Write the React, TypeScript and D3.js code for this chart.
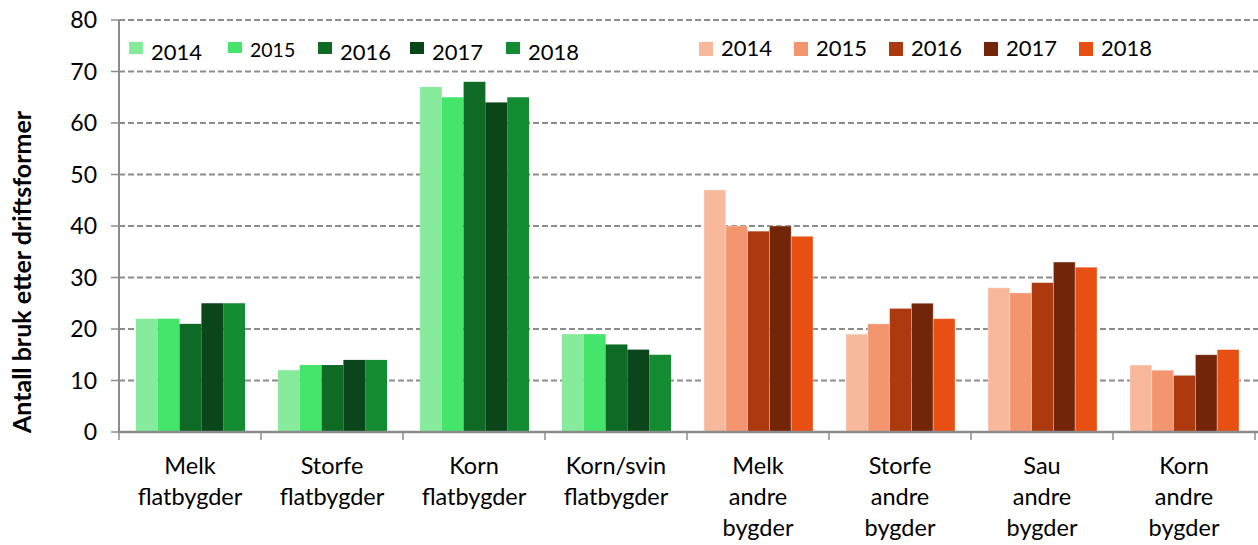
import React from "react";
import * as d3 from "d3";

const categories = [
  ["Melk", "flatbygder"],
  ["Storfe", "flatbygder"],
  ["Korn", "flatbygder"],
  ["Korn/svin", "flatbygder"],
  ["Melk", "andre", "bygder"],
  ["Storfe", "andre", "bygder"],
  ["Sau", "andre", "bygder"],
  ["Korn", "andre", "bygder"],
];
const years = ["2014", "2015", "2016", "2017", "2018"];
const values2014 = [22, 12, 67, 19, 47, 19, 28, 13];
const values2015 = [22, 13, 65, 19, 40, 21, 27, 12];
const values2016 = [21, 13, 68, 17, 39, 24, 29, 11];
const values2017 = [25, 14, 64, 16, 40, 25, 33, 15];
const values2018 = [25, 14, 65, 15, 38, 22, 32, 16];
const series = [values2014, values2015, values2016, values2017, values2018];
const greenColors = ["#86EC9C", "#45E46A", "#0E6A25", "#0A4619", "#138B30"];
const orangeColors = ["#F8B89C", "#F3956E", "#AD3A0E", "#73250A", "#E84F12"];
const yTicks = [0, 10, 20, 30, 40, 50, 60, 70, 80];
const yTitle = "Antall bruk etter driftsformer";

const W = 1258;
const H = 545;
const FONT = "Lato, 'Open Sans', sans-serif";

export default function App() {
  const left = 119;
  const right = 1255;
  const top = 20;
  const bottom = 432;
  const x = d3.scaleBand<number>().domain(d3.range(categories.length)).range([left, right]).padding(0);
  const inner = d3.scaleBand<number>().domain(d3.range(years.length)).range([17, x.bandwidth() - 16]).padding(0);
  const y = d3.scaleLinear().domain([0, 80]).range([bottom, top]);

  const greenLegendX = [129, 228, 318, 410, 506];
  const orangeLegendX = [699, 794, 889, 984, 1079];

  return (
    <svg width={W} height={H} style={{ position: "absolute", left: 0, top: 0, background: "#fff" }} fontFamily={FONT}>
      {/* gridlines */}
      {yTicks.filter((t) => t > 0).map((t) => (
        <line key={"g" + t} x1={left} x2={W} y1={y(t)} y2={y(t)} stroke="#8c8c8c" strokeWidth={1.8} strokeDasharray="6,3" />
      ))}
      {/* bars */}
      {categories.map((c, ci) =>
        series.map((s, si) => {
          const col = ci < 4 ? greenColors[si] : orangeColors[si];
          const bx = (x(ci) as number) + (inner(si) as number);
          return (
            <rect key={ci + "-" + si} x={bx} y={y(s[ci])} width={inner.bandwidth()} height={bottom - y(s[ci])} fill={col}
              stroke={ci < 4 ? "none" : "#ffffff"} strokeOpacity={0.4} strokeWidth={0.8} />
          );
        })
      )}
      {/* y axis */}
      <line x1={left} x2={left} y1={top} y2={bottom} stroke="#8c8c8c" strokeWidth={2} />
      {yTicks.map((t) => (
        <g key={"t" + t}>
          <line x1={left - 8} x2={left} y1={y(t)} y2={y(t)} stroke="#8c8c8c" strokeWidth={1.5} />
          <text x={97} y={y(t)} dy="0.36em" textAnchor="end" fontSize={23} fill="#000">{t}</text>
        </g>
      ))}
      {/* x axis */}
      <line x1={left} x2={W} y1={bottom} y2={bottom} stroke="#8c8c8c" strokeWidth={2.5} />
      {d3.range(categories.length + 1).map((i) => {
        const tx = i < categories.length ? (x(i) as number) : right;
        return <line key={"xt" + i} x1={tx} x2={tx} y1={bottom} y2={bottom + 8} stroke="#8c8c8c" strokeWidth={1.5} />;
      })}
      {categories.map((c, ci) => (
        <text key={"cl" + ci} x={(x(ci) as number) + x.bandwidth() / 2} textAnchor="middle" fontSize={23.5} fill="#000">
          {c.map((line, li) => (
            <tspan key={li} x={(x(ci) as number) + x.bandwidth() / 2} y={474 + li * 31}>{line}</tspan>
          ))}
        </text>
      ))}
      {/* y title */}
      <text transform={`translate(31,272) rotate(-90)`} textAnchor="middle" fontSize={25} fontWeight="bold" fill="#000">
        {yTitle}
      </text>
      {/* legends */}
      {years.map((yr, i) => (
        <g key={"lg" + i}>
          <rect x={greenLegendX[i]} y={42} width={14} height={i === 1 ? 11 : 12} fill={greenColors[i]} />
          <text x={greenLegendX[i] + 22} y={i === 1 ? 57 : 60} fontSize={i === 1 ? 19.5 : 22} fill="#000">{yr}</text>
        </g>
      ))}
      {years.map((yr, i) => (
        <g key={"lo" + i}>
          <rect x={orangeLegendX[i]} y={42} width={14} height={14} fill={orangeColors[i]} />
          <text x={orangeLegendX[i] + 22} y={56} fontSize={22} fill="#000">{yr}</text>
        </g>
      ))}
    </svg>
  );
}
